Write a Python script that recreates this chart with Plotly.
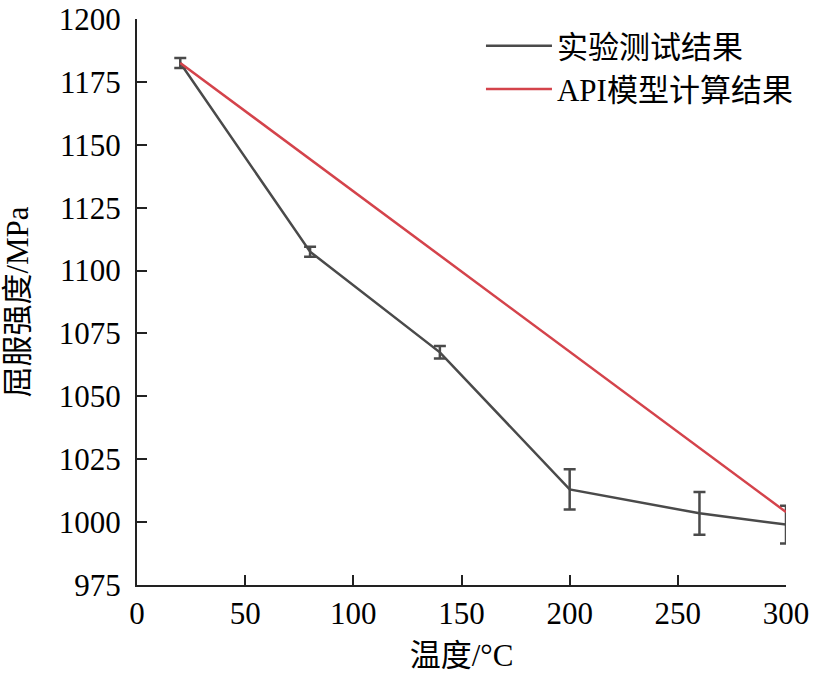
""" Yield strength versus temperature: test results against the API model
"""

import plotly.graph_objects as go


TEMPERATURES = [20, 80, 140, 200, 260, 300]
TEST_STRENGTH = [1182.5, 1107.5, 1067.5, 1013, 1003.5, 999]
TEST_ERROR = [2, 2, 2.5, 8, 8.5, 7.5]
API_TEMPERATURES = [20, 300]
API_STRENGTH = [1182.5, 1004]
X_TICKS = [0, 50, 100, 150, 200, 250, 300]
Y_TICKS = [975, 1000, 1025, 1050, 1075, 1100, 1125, 1150, 1175, 1200]

FONT = "Liberation Serif, Noto Sans CJK SC, serif"
GRAY = "#4a4a4a"
RED = "#d4434b"

figure = go.Figure()
figure.add_trace(go.Scatter(
    x=TEMPERATURES,
    y=TEST_STRENGTH,
    mode="lines",
    name="实验测试结果",
    line=dict(color=GRAY, width=2.5),
    error_y=dict(type="data", array=TEST_ERROR, visible=True,
                 color=GRAY, thickness=2.5, width=6)
))
figure.add_trace(go.Scatter(
    x=API_TEMPERATURES,
    y=API_STRENGTH,
    mode="lines",
    name="API模型计算结果",
    line=dict(color=RED, width=2.5)
))

axis_style = dict(
    showgrid=False,
    zeroline=False,
    showline=True,
    linecolor="#222222",
    linewidth=2,
    ticks="inside",
    ticklen=10,
    tickwidth=2,
    tickcolor="#222222",
    automargin=False,
    tickfont=dict(family=FONT, size=31, color="black"),
)

figure.update_layout(
    width=817,
    height=673,
    margin=dict(l=137, r=31, t=19, b=88),
    paper_bgcolor="white",
    plot_bgcolor="white",
    font=dict(family=FONT, color="black"),
    xaxis=dict(range=[0, 300], tickvals=X_TICKS,
               title=dict(text="温度/°C", font=dict(family=FONT, size=31)),
               **axis_style),
    yaxis=dict(range=[975, 1200], tickvals=Y_TICKS, ticklabelstandoff=8,
               title=dict(text="屈服强度/MPa", font=dict(family=FONT, size=31),
                          standoff=23),
               **axis_style),
    # the legend must stay inside the figure or it pushes the right margin
    legend=dict(x=0.53, y=1.0, xanchor="left", yanchor="top",
                bgcolor="rgba(0,0,0,0)",
                font=dict(family=FONT, size=31, color="black"),
                itemwidth=66, tracegroupgap=0),
    showlegend=True,
)

# drop the page's own 8px margin so the figure sits at the window corner
figure.write_html("out.html", config={"displayModeBar": False},
                  post_script="document.body.style.margin = '0';")
